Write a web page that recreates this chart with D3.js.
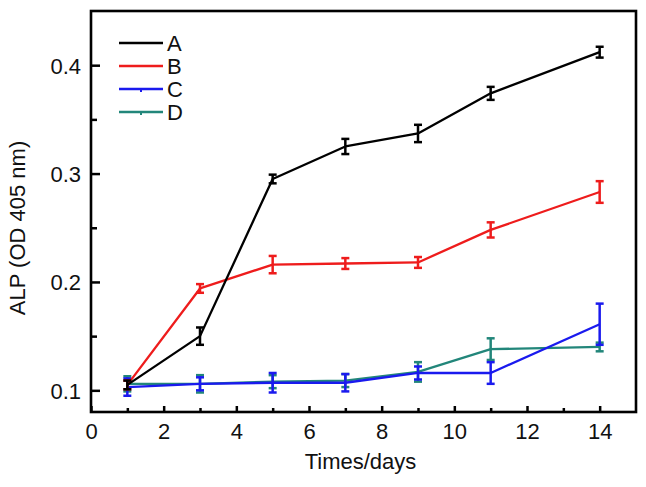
<!DOCTYPE html>
<html>
<head>
<meta charset="utf-8">
<script src="https://cdn.jsdelivr.net/npm/d3@7"></script>
<style>
html,body{margin:0;padding:0;background:#fff;}
svg{display:block;font-family:"Liberation Sans",Arial,Helvetica,sans-serif;}
</style>
</head>
<body>
<svg id="chart" width="646" height="487"></svg>
<script>
// ---- data ----
const days = [1, 3, 5, 7, 9, 11, 14];
const seriesNames = ["A", "B", "C", "D"];
const seriesColors = ["#000000", "#ee1c1c", "#1a1aee", "#22867a"];
const valuesA = [0.105, 0.150, 0.295, 0.325, 0.337, 0.374, 0.412];
const errorsA = [0.004, 0.008, 0.004, 0.007, 0.008, 0.006, 0.005];
const valuesB = [0.105, 0.194, 0.216, 0.217, 0.218, 0.248, 0.283];
const errorsB = [0.004, 0.004, 0.008, 0.005, 0.005, 0.007, 0.010];
const valuesC = [0.103, 0.106, 0.107, 0.107, 0.116, 0.116, 0.161];
const errorsC = [0.008, 0.006, 0.009, 0.008, 0.006, 0.010, 0.019];
const valuesD = [0.106, 0.106, 0.108, 0.109, 0.117, 0.138, 0.140];
const errorsD = [0.007, 0.008, 0.006, 0.006, 0.009, 0.010, 0.004];
const xMajorTicks = [0, 2, 4, 6, 8, 10, 12, 14];
const xMinorTicks = [1, 3, 5, 7, 9, 11, 13];
const yMajorTicks = [0.1, 0.2, 0.3, 0.4];
const yMinorTicks = [0.15, 0.25, 0.35];
const xTitle = "Times/days";
const yTitle = "ALP (OD 405 nm)";

const allValues = [valuesA, valuesB, valuesC, valuesD];
const allErrors = [errorsA, errorsB, errorsC, errorsD];

// ---- layout ----
const svg = d3.select("#chart");
const mLeft = 91, mRight = 636, mTop = 11, mBottom = 412;
const x = d3.scaleLinear().domain([0, 15]).range([mLeft, mRight]);
const y = d3.scaleLinear().domain([0.08, 0.45]).range([mBottom, mTop]);
const fontSize = 22;

// axes
const gx = svg.append("g").attr("transform", `translate(0,${mBottom})`)
  .call(d3.axisBottom(x).tickValues(xMajorTicks).tickFormat(d3.format("d"))
    .tickSizeInner(-6).tickSizeOuter(0).tickPadding(11));
const gxm = svg.append("g").attr("transform", `translate(0,${mBottom})`)
  .call(d3.axisBottom(x).tickValues(xMinorTicks).tickFormat("")
    .tickSizeInner(-4).tickSizeOuter(0));
const gy = svg.append("g").attr("transform", `translate(${mLeft},0)`)
  .call(d3.axisLeft(y).tickValues(yMajorTicks).tickFormat(d3.format(".1f"))
    .tickSizeInner(-9).tickSizeOuter(0).tickPadding(10));
const gym = svg.append("g").attr("transform", `translate(${mLeft},0)`)
  .call(d3.axisLeft(y).tickValues(yMinorTicks).tickFormat("")
    .tickSizeInner(-6).tickSizeOuter(0));
[gx, gxm, gy, gym].forEach(g => {
  g.select(".domain").remove();
  g.selectAll(".tick line").attr("stroke", "#000").attr("stroke-width", 2.5);
  g.selectAll("text").attr("font-size", fontSize).attr("fill", "#111")
    .attr("font-family", "'Liberation Sans',Arial,Helvetica,sans-serif");
});
gy.selectAll(".tick text").attr("dy", "0.36em");

// frame
svg.append("rect")
  .attr("x", x(0)).attr("y", y(0.45))
  .attr("width", x(15) - x(0)).attr("height", y(0.08) - y(0.45))
  .attr("fill", "none").attr("stroke", "#000").attr("stroke-width", 2.6);

// titles
svg.append("text").attr("x", (mLeft + mRight) / 2 - 3).attr("y", 469)
  .attr("text-anchor", "middle").attr("font-size", fontSize).attr("fill", "#111")
  .text(xTitle);
svg.append("text").attr("transform", "translate(25,228) rotate(-90)")
  .attr("text-anchor", "middle").attr("font-size", fontSize).attr("fill", "#111")
  .text(yTitle);

// series (draw D, C, B, A so A is on top)
const line = d3.line().x(d => x(d.day)).y(d => y(d.v));
const capW = 4;
[3, 2, 1, 0].forEach(i => {
  const pts = days.map((d, k) => ({day: d, v: allValues[i][k], e: allErrors[i][k]}));
  const g = svg.append("g").attr("stroke", seriesColors[i]).attr("fill", "none");
  g.append("path").datum(pts).attr("d", line).attr("stroke-width", 2.3)
    .attr("stroke-linejoin", "round");
  const eb = g.selectAll(".eb").data(pts).join("g").attr("class", "eb")
    .attr("stroke-width", 2.5);
  eb.append("line").attr("x1", d => x(d.day)).attr("x2", d => x(d.day))
    .attr("y1", d => y(d.v - d.e)).attr("y2", d => y(d.v + d.e));
  eb.append("line").attr("x1", d => x(d.day) - capW).attr("x2", d => x(d.day) + capW)
    .attr("y1", d => y(d.v + d.e)).attr("y2", d => y(d.v + d.e));
  eb.append("line").attr("x1", d => x(d.day) - capW).attr("x2", d => x(d.day) + capW)
    .attr("y1", d => y(d.v - d.e)).attr("y2", d => y(d.v - d.e));
});

// legend
const legY = [43, 66, 89, 112];
seriesNames.forEach((name, i) => {
  const g = svg.append("g");
  g.append("line").attr("x1", 119).attr("x2", 163).attr("y1", legY[i]).attr("y2", legY[i])
    .attr("stroke", seriesColors[i]).attr("stroke-width", 2.5);
  if (i >= 2) {
    g.append("line").attr("x1", 141).attr("x2", 141).attr("y1", legY[i]).attr("y2", legY[i] + 3)
      .attr("stroke", seriesColors[i]).attr("stroke-width", 2);
  }
  g.append("text").attr("x", 167).attr("y", legY[i] + 8)
    .attr("font-size", fontSize).attr("fill", "#111").text(name);
});
</script>
</body>
</html>
